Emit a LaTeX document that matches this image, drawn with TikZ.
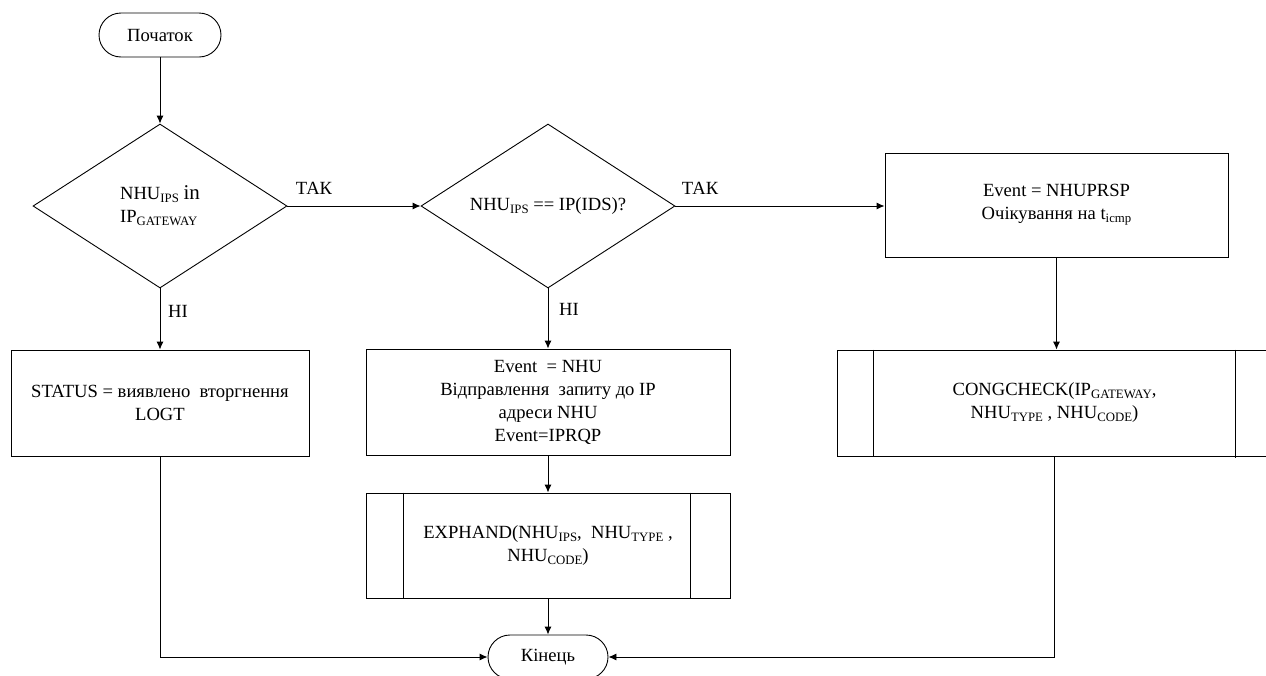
\documentclass[tikz,border=0pt]{standalone}
\usepackage{fontspec}
\setmainfont{Liberation Serif}
\usetikzlibrary{shapes.geometric,arrows.meta,calc}
% lowered small index text
\newcommand\lowtxt[1]{\raisebox{-0.35ex}{\fontsize{12.8}{12.8}\selectfont #1}}

\begin{document}
\begin{tikzpicture}[x=1pt,y=-1pt,
  every node/.style={font=\fontsize{18.6}{23}\selectfont},
  line/.style={line width=0.9pt,draw=black},
  arr/.style={line,-{Latex[length=8pt,width=7pt]}},
  term/.style={line,rounded corners=22pt,minimum width=122pt,minimum height=44pt,inner sep=0pt},
  decision/.style={line,diamond,aspect=1.55,minimum width=254pt,minimum height=164pt,inner sep=0pt,align=center},
  proc/.style={line,rectangle,inner sep=0pt,align=center},
  lbl/.style={inner sep=0pt}
]
\useasboundingbox (0,0) rectangle (1266,675);
\clip (0,0) rectangle (1266,675);

% nodes
\node[term] (start) at (160,35) {Початок};
\node[decision,align=left] (d1) at (160,206)
  {NHU\lowtxt{IPS} {\fontsize{21}{21}\selectfont in}\\IP\lowtxt{GATEWAY}};
\node[decision] (d2) at (548,206) {NHU\lowtxt{IPS} == IP(IDS)?};
\node[proc,minimum width=343pt,minimum height=104pt] (p3) at (1056.5,205)
  {Event = NHUPRSP\\Очікування на t\lowtxt{icmp}};
\node[proc,minimum width=435pt,minimum height=106pt] (cong) at (1054.5,403)
  {CONGCHECK(IP\lowtxt{GATEWAY},\\NHU\lowtxt{TYPE} , NHU\lowtxt{CODE})};
\node[proc,minimum width=298pt,minimum height=106pt] (b1) at (160,403)
  {STATUS = виявлено~~вторгнення\\LOGT};
\node[proc,minimum width=364pt,minimum height=106pt] (b2) at (548,402)
  {Event~ = NHU\\Відправлення~~запиту до IP\\адреси NHU\\Event=IPRQP};
\node[proc,minimum width=364pt,minimum height=105pt] (exp) at (548,545.5)
  {EXPHAND(NHU\lowtxt{IPS},~ NHU\lowtxt{TYPE} ,\\NHU\lowtxt{CODE})};
\node[term,minimum width=120pt] (end) at (548,657) {Кінець};

% subroutine side bars
\draw[line] ([xshift=38pt]exp.north west) -- ([xshift=38pt]exp.south west);
\draw[line] ([xshift=-40pt]exp.north east) -- ([xshift=-40pt]exp.south east);
\draw[line] ([xshift=37pt]cong.north west) -- ([xshift=37pt]cong.south west);
\draw[line] ([xshift=-37pt]cong.north east) -- ([xshift=-37pt,yshift=-2pt]cong.south east);

% branch labels
\node[lbl] (yes1) at (314,188) {ТАК};
\node[lbl] (yes2) at (700,188) {ТАК};
\node[lbl] (no1) at (178,311) {НІ};
\node[lbl] (no2) at (569,309) {НІ};

% connectors
\draw[arr] (start) -- (d1);
\draw[arr] (d1.east) -- (d2.west);
\draw[arr] (d2.east) -- (p3.west |- d2.east);
\draw[arr] (d1.south) -- (b1.north);
\draw[arr] (d2.south) -- (b2.north);
\draw[arr] (p3.south) -- (p3.south |- cong.north);
\draw[arr] (b2) -- (exp);
\draw[arr] (exp) -- (end);
\draw[arr] (b1.south) |- (end.west);
\draw[arr] (cong.south) |- (end.east);
\end{tikzpicture}
\end{document}
